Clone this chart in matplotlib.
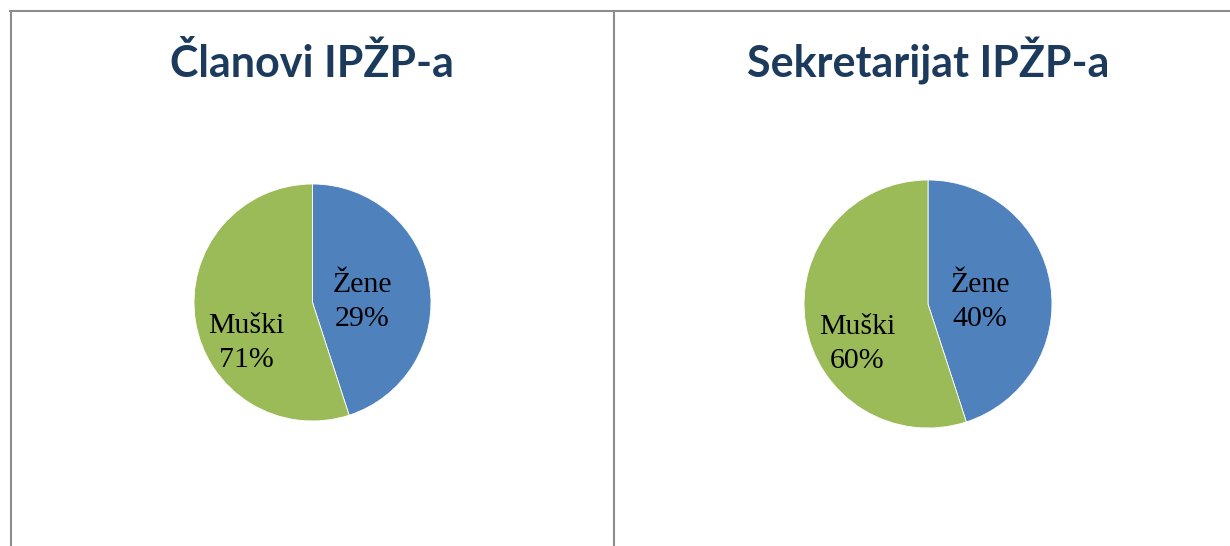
import matplotlib.pyplot as plt
from matplotlib.lines import Line2D

W, H = 1230, 546

titles = ['Članovi IPŽP-a', 'Sekretarijat IPŽP-a']
categories = ['Žene', 'Muški']
# slice sizes as they are drawn in the picture
shares = [[45, 55], [45, 55]]
# percentages printed on the labels
pct_labels = [['29%', '71%'], ['40%', '60%']]
colors = ['#4F81BD', '#9BBB59']

# layout (pixels): pie centre x, centre y, radius
pies = [(312.5, 302.5, 118.5), (928, 304, 124)]
title_x = [312, 928]
label_pos = [[(0.42, 0.0), (-0.56, -0.34)], [(0.42, 0.02), (-0.57, -0.32)]]

fig = plt.figure(figsize=(W / 100, H / 100), dpi=100)

for i in range(2):
    cx, cy, r = pies[i]
    ax = fig.add_axes([(cx - r) / W, (H - cy - r) / H, 2 * r / W, 2 * r / H])
    ax.pie(shares[i], colors=colors, startangle=90, counterclock=False,
           radius=1, wedgeprops=dict(edgecolor='white', linewidth=0.6))
    ax.set_xlim(-1, 1)
    ax.set_ylim(-1, 1)
    ax.set_aspect('equal')
    ax.axis('off')
    for j in range(2):
        lx, ly = label_pos[i][j]
        ax.text(lx, ly, categories[j] + '\n' + pct_labels[i][j], ha='center', va='center',
                family='Liberation Serif', fontsize=21.5, linespacing=1.4, color='black')
    fig.text(title_x[i] / W, (H - 77) / H, titles[i], ha='center', va='baseline',
             family='Lato', fontweight='bold', fontsize=31, color='#1B3A5C')

gray = '#8C8C8C'
fig.add_artist(Line2D([10 / W, 1], [(H - 11) / H] * 2, color=gray, lw=1.5))
fig.add_artist(Line2D([10.5 / W] * 2, [0, (H - 11) / H], color=gray, lw=1.5))
fig.add_artist(Line2D([614 / W] * 2, [0, (H - 11) / H], color=gray, lw=1.5))

fig.savefig('out.png', dpi=100)
